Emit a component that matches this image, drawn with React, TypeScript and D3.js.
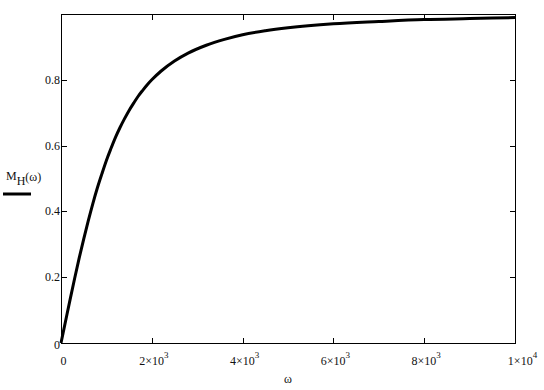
import React, { useEffect, useRef } from "react";
import * as d3 from "d3";

const omega = [0, 100, 200, 300, 400, 500, 600, 700, 800, 900, 1000, 1100, 1200, 1300, 1400, 1500, 1600, 1700, 1800, 1900, 2000, 2200, 2500, 2800, 3200, 3600, 4000, 4500, 5000, 6000, 7000, 8000, 9000, 10000];
const mH = [0, 0.066, 0.132, 0.196, 0.258, 0.316, 0.371, 0.423, 0.471, 0.514, 0.555, 0.591, 0.625, 0.655, 0.682, 0.707, 0.729, 0.75, 0.768, 0.785, 0.8, 0.826, 0.857, 0.881, 0.905, 0.923, 0.937, 0.949, 0.958, 0.97, 0.977, 0.983, 0.986, 0.989];
const xTicks = [0, 2000, 4000, 6000, 8000, 10000];
const xTickMant = ["0", "2×10", "4×10", "6×10", "8×10", "1×10"];
const xTickExp = ["", "3", "3", "3", "3", "4"];
const yTicks = [0, 0.2, 0.4, 0.6, 0.8];
const yTickLabels = ["0", "0.2", "0.4", "0.6", "0.8"];

export default function App() {
  const ref = useRef<SVGSVGElement>(null);
  useEffect(() => {
    const svg = d3.select(ref.current);
    svg.selectAll("*").remove();
    const L = 61, R = 515, T = 14, B = 343;
    const x = d3.scaleLinear().domain([0, 10000]).range([L, R]);
    const y = d3.scaleLinear().domain([0, 1]).range([B, T]);
    const font = "Liberation Serif, Times New Roman, serif";

    const line = d3.line<number>().x((_, i) => x(omega[i])).y((d) => y(d)).curve(d3.curveMonotoneX);
    svg.append("path").attr("d", line(mH)).attr("fill", "none").attr("stroke", "#000").attr("stroke-width", 3).attr("stroke-linejoin", "round");

    svg.append("rect").attr("x", L + 0.5).attr("y", T + 0.5).attr("width", R - L).attr("height", B - T)
      .attr("fill", "none").attr("stroke", "#000").attr("stroke-width", 1);

    xTicks.forEach((t, i) => {
      const px = Math.round(x(t)) + 0.5;
      if (i > 0 && i < xTicks.length - 1) {
        svg.append("line").attr("x1", px).attr("x2", px).attr("y1", B + 0.5).attr("y2", B - 5).attr("stroke", "#000");
        svg.append("line").attr("x1", px).attr("x2", px).attr("y1", T + 0.5).attr("y2", T + 6).attr("stroke", "#000");
      }
      const g = svg.append("text").attr("font-family", font).attr("font-size", 12).attr("fill", "#111")
        .attr("y", 365);
      if (i === 0) {
        g.attr("x", x(t) + 2.5).attr("text-anchor", "middle").text(xTickMant[i]);
      } else {
        const shift = i === xTicks.length - 1 ? 7.5 : 2;
        g.attr("x", x(t) + shift).attr("text-anchor", "middle");
        g.append("tspan").text(xTickMant[i]);
        g.append("tspan").attr("dy", -7).attr("font-size", 9).text(xTickExp[i]);
      }
    });

    yTicks.forEach((t, i) => {
      const py = Math.round(y(t)) + 0.5;
      if (i > 0) {
        svg.append("line").attr("x1", L + 0.5).attr("x2", L + 6).attr("y1", py).attr("y2", py).attr("stroke", "#000");
        svg.append("line").attr("x1", R + 0.5).attr("x2", R - 5).attr("y1", py).attr("y2", py).attr("stroke", "#000");
      }
      svg.append("text").attr("font-family", font).attr("font-size", 12).attr("fill", "#111")
        .attr("x", L - 1).attr("y", y(t) + 4 + (i === 0 ? 1.5 : 0)).attr("text-anchor", "end").text(yTickLabels[i]);
    });

    svg.append("text").attr("font-family", font).attr("font-size", 12).attr("fill", "#111")
      .attr("x", (L + R) / 2).attr("y", 383).attr("text-anchor", "middle").text("ω");

    const lab = svg.append("text").attr("font-family", font).attr("font-size", 12).attr("fill", "#111")
      .attr("x", 6).attr("y", 180);
    lab.append("tspan").text("M");
    lab.append("tspan").attr("dy", 5).text("H");
    lab.append("tspan").attr("dy", -4).text("(ω)");
    svg.append("line").attr("x1", 3).attr("x2", 31).attr("y1", 194).attr("y2", 194).attr("stroke", "#000").attr("stroke-width", 3);
  }, []);
  return (
    <svg ref={ref} width={544} height={390} style={{ position: "absolute", left: 0, top: 0, background: "#fff" }} />
  );
}
